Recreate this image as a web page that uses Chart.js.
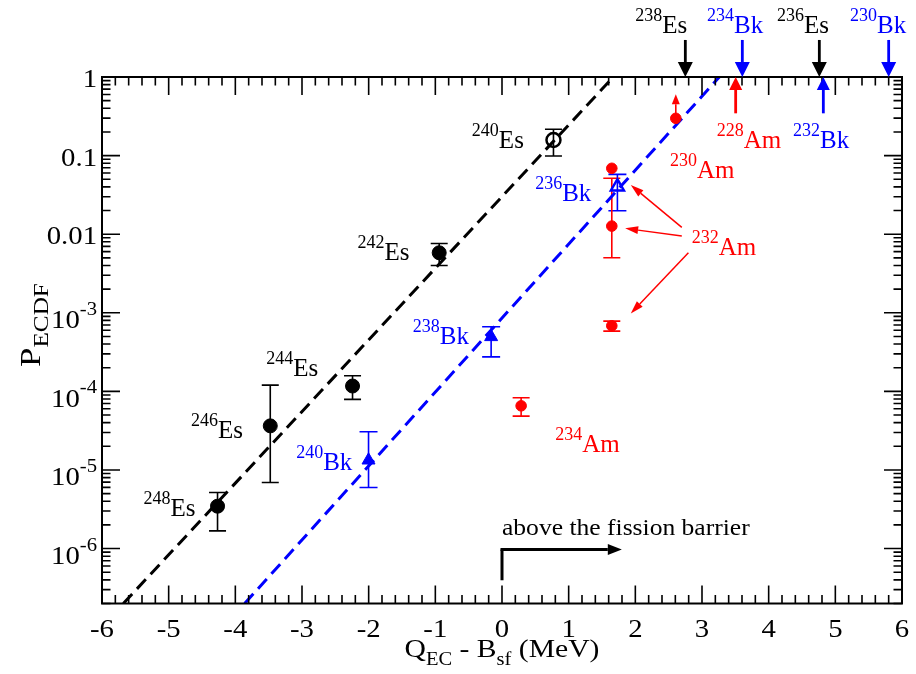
<!DOCTYPE html>
<html><head><meta charset="utf-8">
<script src="https://cdn.jsdelivr.net/npm/chart.js@4.4.1/dist/chart.umd.min.js"></script>
<style>html,body{margin:0;padding:0;background:#fff;}canvas{display:block;}</style>
</head><body>
<canvas id="c" width="916" height="674"></canvas>
<script>
// ---------- data ----------
const esX   = [-4.267, -3.476, -2.242, -0.942];
const esY   = [3.46e-6, 3.64e-5, 1.17e-4, 5.8e-3];
const esLo  = [1.68e-6, 6.93e-6, 7.9e-5, 4.0e-3];
const esHi  = [5.17e-6, 1.20e-4, 1.58e-4, 7.6e-3];
const esOpenX  = [0.772];
const esOpenY  = [0.158];
const esOpenLo = [0.0987];
const esOpenHi = [0.216];
const bkX   = [-2.002, -0.163];
const bkY   = [1.33e-5, 4.94e-4];
const bkLo  = [5.98e-6, 2.75e-4];
const bkHi  = [3.06e-5, 6.63e-4];
const bkOpenX  = [1.731];
const bkOpenY  = [0.0402];
const bkOpenLo = [0.0199];
const bkOpenHi = [0.0577];
const amX   = [0.287, 1.647, 1.647, 1.647, 2.607];
const amY   = [6.55e-5, 0.0689, 0.01268, 6.83e-4, 0.298];
const amLo  = [4.84e-5, null, 5.01e-3, 5.85e-4, null];
const amHi  = [8.28e-5, null, 0.0514, 7.84e-4, null];
const fitEsX = [-5.68, 1.67];
const fitEsY = [2e-7, 1];
const fitBkX = [-3.86, 3.26];
const fitBkY = [2e-7, 1];
// isotopes beyond the plotted range (arrows on the top axis)
const esTopX = [2.75, 4.76];
const esTopMass = ['238', '236'];
const bkTopX = [3.605, 5.80];
const bkTopMass = ['234', '230'];
const amUpX = [3.505];
const amUpMass = ['228'];
const bkUpX = [4.82];
const bkUpMass = ['232'];
// tick labels
const xTickValues = [-6,-5,-4,-3,-2,-1,0,1,2,3,4,5,6];
const xTickLabels = ['-6','-5','-4','-3','-2','-1','0','1','2','3','4','5','6'];
const yTickValues = [1, 0.1, 0.01, 1e-3, 1e-4, 1e-5, 1e-6];
const yTickBase   = ['1','0.1','0.01','10','10','10','10'];
const yTickExp    = ['','','','-3','-4','-5','-6'];
// isotope labels: [x, y, mass, symbol, colour]
const isoLabels = [
  [-0.452, 0.158,   '240','Es','#000'],
  [-2.167, 5.97e-3, '242','Es','#000'],
  [-3.536, 2.0e-4,  '244','Es','#000'],
  [-4.666, 3.21e-5, '246','Es','#000'],
  [-5.376, 3.24e-6, '248','Es','#000'],
  [-1.337, 5.05e-4, '238','Bk','#0000ff'],
  [-3.087, 1.27e-5, '240','Bk','#0000ff'],
  [0.498,  0.0333,  '236','Bk','#0000ff'],
  [2.521,  0.0655,  '230','Am','#ff0000'],
  [2.847,  6.92e-3, '232','Am','#ff0000'],
  [0.797,  2.17e-5, '234','Am','#ff0000'],
  [3.222,  0.158,   '228','Am','#ff0000'],
  [4.366,  0.158,   '232','Bk','#0000ff'],
  [1.997,  4.53,    '238','Es','#000'],
  [3.076,  4.53,    '234','Bk','#0000ff'],
  [4.125,  4.53,    '236','Es','#000'],
  [5.221,  4.53,    '230','Bk','#0000ff']
];
// pointer arrows to the 232Am points: [x1,y1,x2,y2]
const am232Pointers = [
  [2.697, 0.01222, 1.932, 0.0422],
  [2.697, 9.46e-3, 1.847, 0.01186],
  [2.796, 5.81e-3, 1.932, 9.82e-4]
];
const barrierArrowX = [0, 0, 1.797];
const barrierArrowY = [3.95e-7, 9.73e-7, 9.73e-7];
const barrierText = 'above the fission barrier';
const barrierTextPos = [0, 1.48e-6];

// ---------- helpers ----------
const SERIF = '"Liberation Serif","Times New Roman",serif';
const RED = '#ff0000', BLUE = '#0000ff', BLACK = '#000000';
function pts(xs, ys){ return xs.map((x,i)=>({x:x, y:ys[i]})); }
function drawParts(ctx, x, y, parts, align, sx){
  sx = sx || 1;
  ctx.textBaseline = 'alphabetic'; ctx.textAlign = 'left';
  let w = 0;
  parts.forEach(p=>{ ctx.font = p.size + 'px ' + SERIF; p.w = ctx.measureText(p.t).width; w += p.w; });
  const W = w * sx;
  const x0 = align === 'center' ? x - W/2 : (align === 'right' ? x - W : x);
  ctx.save();
  ctx.translate(x0, y); ctx.scale(sx, 1);
  let cx = 0;
  parts.forEach(p=>{ ctx.font = p.size + 'px ' + SERIF; ctx.fillText(p.t, cx, (p.dy||0)); cx += p.w; });
  ctx.restore();
}
function arrow(ctx, x1, y1, x2, y2, color, lw, hl, hw){
  const a = Math.atan2(y2-y1, x2-x1);
  const bx = x2 - Math.cos(a)*hl, by = y2 - Math.sin(a)*hl;
  ctx.strokeStyle = color; ctx.fillStyle = color; ctx.lineWidth = lw;
  ctx.beginPath(); ctx.moveTo(x1,y1); ctx.lineTo(bx,by); ctx.stroke();
  ctx.beginPath();
  ctx.moveTo(x2,y2);
  ctx.lineTo(bx + Math.sin(a)*hw/2, by - Math.cos(a)*hw/2);
  ctx.lineTo(bx - Math.sin(a)*hw/2, by + Math.cos(a)*hw/2);
  ctx.closePath(); ctx.fill();
}
function errBars(ctx, xs, sc, lo, hi, color, cap){
  const X = sc.x, Y = sc.y;
  ctx.strokeStyle = color; ctx.lineWidth = 1.6;
  xs.forEach((xv,i)=>{
    if (lo[i] == null) return;
    const px = X.getPixelForValue(xv), pl = Y.getPixelForValue(lo[i]), ph = Y.getPixelForValue(hi[i]);
    ctx.beginPath();
    ctx.moveTo(px, pl); ctx.lineTo(px, ph);
    ctx.moveTo(px-cap, pl); ctx.lineTo(px+cap, pl);
    ctx.moveTo(px-cap, ph); ctx.lineTo(px+cap, ph);
    ctx.stroke();
  });
}

const decor = {
  id: 'decor',
  beforeDatasetsDraw(chart){
    const ctx = chart.ctx, sc = chart.scales;
    ctx.save();
    errBars(ctx, esX, sc, esLo, esHi, BLACK, 8.5);
    errBars(ctx, esOpenX, sc, esOpenLo, esOpenHi, BLACK, 8.5);
    errBars(ctx, bkX, sc, bkLo, bkHi, BLUE, 9);
    errBars(ctx, bkOpenX, sc, bkOpenLo, bkOpenHi, BLUE, 9);
    errBars(ctx, amX, sc, amLo, amHi, RED, 8.5);
    ctx.restore();
  },
  afterDatasetsDraw(chart){
    const ctx = chart.ctx, X = chart.scales.x, Y = chart.scales.y, a = chart.chartArea;
    ctx.save();
    // frame
    ctx.strokeStyle = BLACK; ctx.lineWidth = 2;
    ctx.strokeRect(a.left, a.top, a.right - a.left, a.bottom - a.top);
    // x ticks (bottom & top, inward)
    ctx.lineWidth = 1.6;
    ctx.beginPath();
    for (let k = -30; k <= 30; k++){
      const v = k/5, px = X.getPixelForValue(v), L = (k % 5 === 0) ? 18 : 8.5;
      ctx.moveTo(px, a.bottom); ctx.lineTo(px, a.bottom - L);
      ctx.moveTo(px, a.top); ctx.lineTo(px, a.top + L);
    }
    // y ticks (left & right, inward)
    for (let d = -7; d <= 0; d++){
      for (let m = 1; m <= 9; m++){
        const v = m * Math.pow(10, d);
        if (v < 2e-7*0.999 || v > 1.0001) continue;
        const py = Y.getPixelForValue(v), L = (m === 1) ? 18 : 8.5;
        ctx.moveTo(a.left, py); ctx.lineTo(a.left + L, py);
        ctx.moveTo(a.right, py); ctx.lineTo(a.right - L, py);
      }
    }
    ctx.stroke();
    // tick labels
    ctx.fillStyle = BLACK;
    xTickValues.forEach((v,i)=>{
      drawParts(ctx, X.getPixelForValue(v), a.bottom + 33, [{t:xTickLabels[i], size:25}], 'center', 1.15);
    });
    yTickValues.forEach((v,i)=>{
      const py = Y.getPixelForValue(v);
      if (yTickExp[i]) drawParts(ctx, 97, py + 15.5, [{t:yTickBase[i], size:25},{t:yTickExp[i], size:18, dy:-13.5}], 'right', 1.15);
      else drawParts(ctx, 97, py + 10, [{t:yTickBase[i], size:25}], 'right', 1.15);
    });
    // axis titles
    drawParts(ctx, (a.left + a.right)/2, 657, [
      {t:'Q', size:26},{t:'EC', size:18, dy:8},{t:' - B', size:26},{t:'sf', size:18, dy:8},{t:' (MeV)', size:26}
    ], 'center', 1.14);
    ctx.save();
    ctx.translate(40, 325); ctx.rotate(-Math.PI/2);
    drawParts(ctx, 0, 0, [{t:'P', size:29},{t:'ECDF', size:21, dy:8}], 'center', 1.2);
    ctx.restore();
    // annotations
    const P = (x,y)=>[X.getPixelForValue(x), Y.getPixelForValue(y)];
    esTopX.forEach(x=>{ const [p1x,p1y]=P(x,2.96), [p2x,p2y]=P(x,1); arrow(ctx,p1x,p1y,p2x,p2y,BLACK,2.8,15,15); });
    bkTopX.forEach(x=>{ const [p1x,p1y]=P(x,2.96), [p2x,p2y]=P(x,1); arrow(ctx,p1x,p1y,p2x,p2y,BLUE,2.8,15,15); });
    amUpX.forEach(x=>{ const [p1x,p1y]=P(x,0.345), [p2x,p2y]=P(x,1); arrow(ctx,p1x,p1y,p2x,p2y,RED,2.8,13,13); });
    bkUpX.forEach(x=>{ const [p1x,p1y]=P(x,0.345), [p2x,p2y]=P(x,1); arrow(ctx,p1x,p1y,p2x,p2y,BLUE,2.8,13,13); });
    { const [p1x,p1y]=P(amX[4],amY[4]), [p2x,p2y]=P(amX[4],0.603); arrow(ctx,p1x,p1y,p2x,p2y,RED,1.6,10,8); }
    am232Pointers.forEach(r=>{ const [p1x,p1y]=P(r[0],r[1]), [p2x,p2y]=P(r[2],r[3]); arrow(ctx,p1x,p1y,p2x,p2y,RED,1.5,13,8); });
    {
      const q = barrierArrowX.map((x,i)=>P(x, barrierArrowY[i]));
      ctx.strokeStyle = BLACK; ctx.lineWidth = 3;
      ctx.beginPath(); ctx.moveTo(q[0][0], q[0][1]); ctx.lineTo(q[1][0], q[1][1]); ctx.stroke();
      arrow(ctx, q[1][0]-1.5, q[1][1], q[2][0], q[2][1], BLACK, 3, 14, 11);
      const [tx,ty] = P(barrierTextPos[0], barrierTextPos[1]);
      ctx.fillStyle = BLACK;
      drawParts(ctx, tx, ty, [{t:barrierText, size:24}], 'left', 1.065);
    }
    isoLabels.forEach(l=>{
      const [px,py] = P(l[0], l[1]);
      ctx.fillStyle = l[4];
      drawParts(ctx, px, py + 8, [{t:l[2], size:18, dy:-12},{t:l[3], size:25}], 'left', 1);
    });
    ctx.restore();
  }
};

new Chart(document.getElementById('c'), {
  type: 'scatter',
  data: { datasets: [
    { data: pts(esX, esY), pointStyle:'circle', pointRadius:7, backgroundColor:BLACK, borderColor:BLACK, borderWidth:1 },
    { data: pts(esOpenX, esOpenY), pointStyle:'circle', pointRadius:7, backgroundColor:'rgba(0,0,0,0)', borderColor:BLACK, borderWidth:2.5 },
    { data: pts(bkX, bkY), pointStyle:'triangle', pointRadius:7.5, backgroundColor:BLUE, borderColor:BLUE, borderWidth:1 },
    { data: pts(bkOpenX, bkOpenY), pointStyle:'triangle', pointRadius:7.5, backgroundColor:'rgba(0,0,0,0)', borderColor:BLUE, borderWidth:2.5 },
    { data: pts(amX, amY), pointStyle:'circle', pointRadius:5.3, backgroundColor:RED, borderColor:RED, borderWidth:1 },
    { type:'line', data: pts(fitEsX, fitEsY), showLine:true, borderColor:BLACK, borderWidth:3, borderDash:[13,7], pointRadius:0, fill:false },
    { type:'line', data: pts(fitBkX, fitBkY), showLine:true, borderColor:BLUE, borderWidth:3, borderDash:[13,7], pointRadius:0, fill:false }
  ]},
  options: {
    responsive:false, animation:false, devicePixelRatio:1,
    layout:{ padding:{ top:77, right:14, left:0, bottom:0 } },
    plugins:{ legend:{display:false}, tooltip:{enabled:false} },
    scales:{
      x:{ type:'linear', min:-6, max:6, grid:{display:false}, border:{display:false}, ticks:{display:false},
          afterFit(s){ s.height = 70.5; } },
      y:{ type:'logarithmic', min:2e-7, max:1, grid:{display:false}, border:{display:false}, ticks:{display:false},
          afterFit(s){ s.width = 102; } }
    }
  },
  plugins:[decor]
});
</script>
</body></html>
